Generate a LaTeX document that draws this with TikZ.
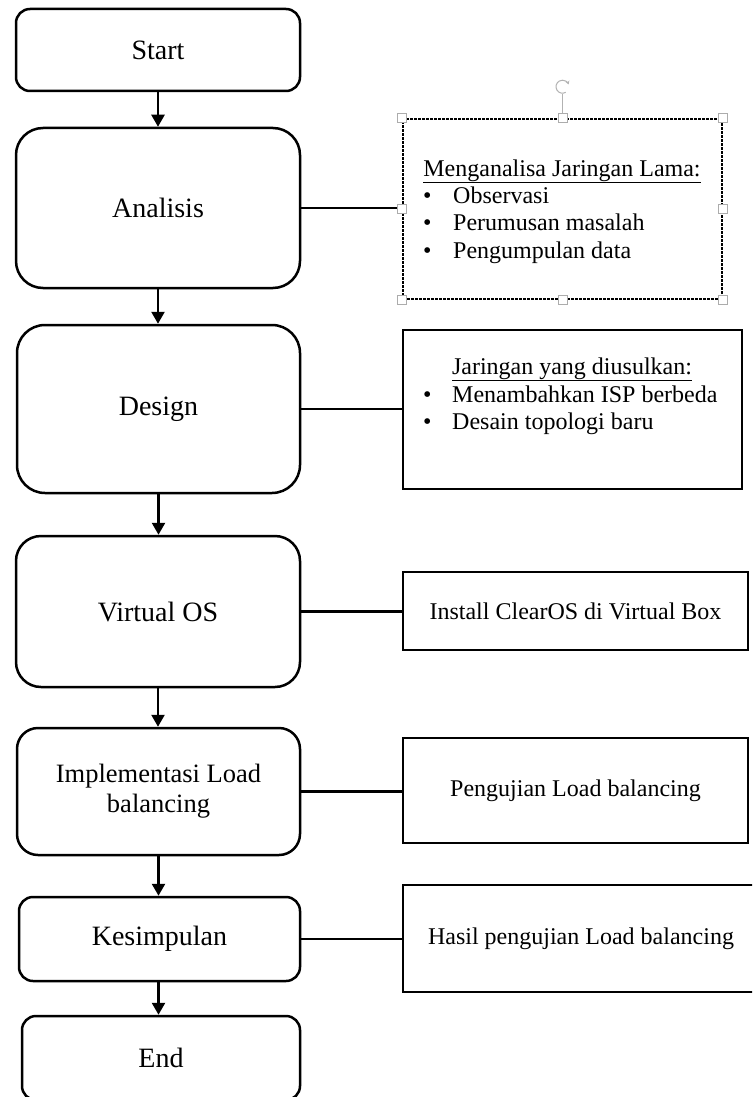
\documentclass[tikz,border=0pt]{standalone}
\usepackage{fontspec}
\setmainfont{Liberation Serif}
\usetikzlibrary{arrows.meta,calc}

\begin{document}
\begin{tikzpicture}[x=1pt,y=-1pt,
  stage/.style={draw,line width=2.5pt,rounded corners=#1,inner sep=0pt,
    align=center,font=\fontsize{28}{32}\selectfont},
  note/.style={draw,line width=2.6pt,inner sep=0pt,align=center,
    font=\fontsize{24}{28}\selectfont},
  selnote/.style={draw,line width=2.6pt,dash pattern=on 3pt off 1pt,inner sep=0pt},
  txt/.style={inner sep=0pt,font=\fontsize{24}{28}\selectfont},
  flow/.style={line width=2.5pt,-{Triangle[width=13pt,length=12pt]}},
  link/.style={line width=2.5pt},
  grip/.style={draw=gray!65,fill=white,line width=0.9pt,minimum size=9pt,inner sep=0pt},
  rotgrip/.style={draw=gray!60,line width=1pt}]

\clip (0,0) rectangle (752,1097);
\fill[white] (0,0) rectangle (752,1097);

% main process column
\node[stage=14,minimum width=284pt,minimum height=82pt]  (start)  at (158,50)     {Start};
\node[stage=27,minimum width=284pt,minimum height=160pt] (anal)   at (158,208)    {Analisis};
\node[stage=28,minimum width=283pt,minimum height=168pt] (design) at (158.5,409)  {Design};
\node[stage=25,minimum width=284pt,minimum height=151pt] (vos)    at (158,611.5)  {Virtual OS};
\node[stage=21,minimum width=283pt,minimum height=127pt,
      font=\fontsize{26.5}{30}\selectfont]               (impl)   at (158.5,791.5) {Implementasi Load\\balancing};
\node[stage=14,minimum width=281pt,minimum height=84pt]  (kes)    at (159.5,939)  {Kesimpulan};
\node[stage=14,minimum width=278pt,minimum height=84pt]  (fin)    at (161,1058)   {End};

% side notes
\node[selnote,minimum width=319pt,minimum height=180pt] (n1) at (562.5,209) {};
\node[note,minimum width=339pt,minimum height=159pt] (n2) at (572.5,409.5) {};
\node[note,minimum width=345pt,minimum height=78pt]  (n3) at (575.5,611) {Install ClearOS di Virtual Box};
\node[note,minimum width=345pt,minimum height=105pt] (n4) at (575.5,790.5) {Pengujian Load balancing};
\node[note,minimum width=356pt,minimum height=107pt] (n5) at (581,938.5) {Hasil pengujian Load balancing};

% note 1 contents
\node[txt,anchor=base] (n1h) at (562,176) {\underline{Menganalisa Jaringan Lama:}};
\node[txt,anchor=base west] (n1b1) at (423,203) {•};
\node[txt,anchor=base west] (n1t1) at (453,203) {Observasi};
\node[txt,anchor=base west] (n1b2) at (423,230.5) {•};
\node[txt,anchor=base west] (n1t2) at (453,230.5) {Perumusan masalah};
\node[txt,anchor=base west] (n1b3) at (423,258) {•};
\node[txt,anchor=base west] (n1t3) at (453,258) {Pengumpulan data};

% note 2 contents
\node[txt,anchor=base] (n2h) at (572,374) {\underline{Jaringan yang diusulkan:}};
\node[txt,anchor=base west] (n2b1) at (423,402) {•};
\node[txt,anchor=base west] (n2t1) at (452,402) {Menambahkan ISP berbeda};
\node[txt,anchor=base west] (n2b2) at (423,429) {•};
\node[txt,anchor=base west] (n2t2) at (452,429) {Desain topologi baru};

% flow arrows
\draw[flow] (start.south)  -- (start.south  |- anal.north);
\draw[flow] (anal.south)   -- (anal.south   |- design.north);
\draw[flow] (design.south) -- (design.south |- vos.north);
\draw[flow] (vos.south)    -- (vos.south    |- impl.north);
\draw[flow] (impl.south)   -- (impl.south   |- kes.north);
\draw[flow] (impl.south |- kes.south) -- (impl.south |- fin.north);

% links to the notes
\draw[link] (anal.east)   -- (anal.east   -| n1.west);
\draw[link] (design.east) -- (design.east -| n2.west);
\draw[link] (vos.east)    -- (vos.east    -| n3.west);
\draw[link] (impl.east)   -- (impl.east   -| n4.west);
\draw[link] (kes.east)    -- (kes.east    -| n5.west);

% selection grips round note 1
\coordinate (rot) at ($(n1.north)+(0,-31)$);
\draw[rotgrip] (n1.north) -- ($(n1.north)+(0,-24)$);
\draw[rotgrip,-{Stealth[length=3.5pt,width=4pt]}] (rot) ++(60:6.5) arc[start angle=60,end angle=340,radius=6.5];
\node[grip] (g1) at (n1.north west) {};
\node[grip] (g2) at (n1.north) {};
\node[grip] (g3) at (n1.north east) {};
\node[grip] (g4) at (n1.west) {};
\node[grip] (g5) at (n1.east) {};
\node[grip] (g6) at (n1.south west) {};
\node[grip] (g7) at (n1.south) {};
\node[grip] (g8) at (n1.south east) {};
\end{tikzpicture}
\end{document}
